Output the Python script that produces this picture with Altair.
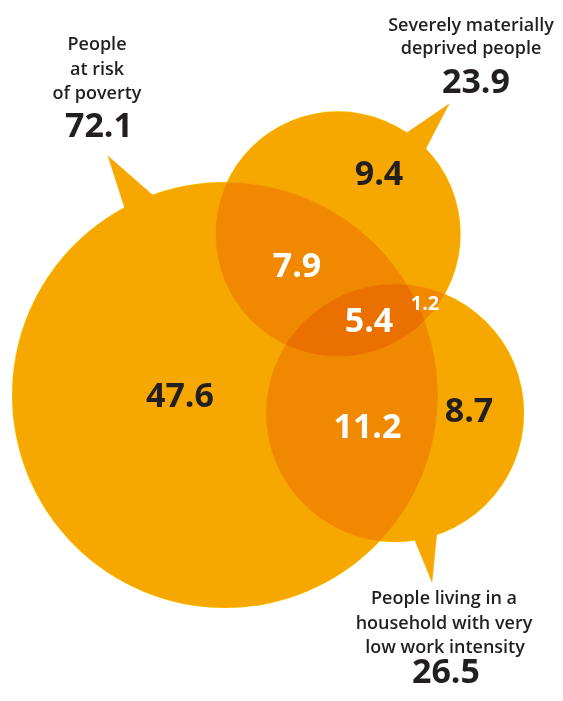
import altair as alt
import pandas as pd

# ---- data ----
circle_names = ["People at risk of poverty", "Severely materially deprived people",
                "People living in a household with very low work intensity"]
circle_totals = [72.1, 23.9, 26.5]
circle_cx = [225, 338, 395]
circle_cy = [395, 234, 413]

# callout tails (three vertices each, base points sit just inside the circle)
tail_group = ["poverty"] * 3 + ["deprived"] * 3 + ["work"] * 3
tail_order = [0, 1, 2] * 3
tail_x = [126, 108, 156, 402, 449, 423, 414, 432, 437]
tail_y = [212, 156, 198, 136, 104, 154, 538, 582, 531]

# circle titles, one row per text line
label_lines = ["People", "at risk", "of poverty",
               "Severely materially", "deprived people",
               "People living in a", "household with very", "low work intensity"]
label_x = [97, 97, 97, 471, 471, 444, 444, 445]
label_y = [50, 74.5, 99, 31, 54, 604, 628.5, 652.5]

# circle totals shown under the titles
total_x = [99, 476, 446]
total_y = [137, 93, 683]

# region values (millions)
region_values = [47.6, 9.4, 8.7, 7.9, 11.2, 1.2, 5.4]
region_kind = ["single", "single", "single", "double", "double", "double", "triple"]
region_x = [180, 379, 469, 297, 367.5, 425, 369]
region_y = [407, 185, 422, 277, 438, 310, 332]

# ---- tables ----
circles = pd.DataFrame({"name": circle_names, "total": circle_totals,
                        "cx": circle_cx, "cy": circle_cy})
tails = pd.DataFrame({"g": tail_group, "o": tail_order, "x": tail_x, "y": tail_y})
labels = pd.DataFrame({"t": label_lines, "x": label_x, "y": label_y})
totals = pd.DataFrame({"v": circle_totals, "x": total_x, "y": total_y})
regions = pd.DataFrame({"v": region_values, "kind": region_kind,
                        "x": region_x, "y": region_y})

W, H = 547, 685
xs = alt.Scale(domain=[8, 8 + W])
ys = alt.Scale(domain=[8, 8 + H], reverse=True)
X = lambda f: alt.X(f, scale=xs, axis=None)
Y = lambda f: alt.Y(f, scale=ys, axis=None)
size_scale = alt.Scale(type="linear", domain=[0, 72.1], range=[0, 426 ** 2])

SINGLE = "#F6A800"
BASE = "#FCCC00"
MULT = "#F9D100"
DARK = "#231F20"
FONT = "Open Sans"

base = alt.Chart(circles).mark_circle(opacity=1, color=BASE).encode(
    x=X("cx:Q"), y=Y("cy:Q"),
    size=alt.Size("total:Q", scale=size_scale, legend=None))

overlay = alt.Chart(circles).mark_circle(
    opacity=1, color=MULT, blend="multiply", stroke="white",
    strokeWidth=0.7, strokeOpacity=0.8).encode(
    x=X("cx:Q"), y=Y("cy:Q"),
    size=alt.Size("total:Q", scale=size_scale, legend=None))

tail = alt.Chart(tails).mark_line(fill=SINGLE, stroke=SINGLE, strokeWidth=0.5,
                                  color=SINGLE).encode(
    x=X("x:Q"), y=Y("y:Q"), detail="g:N", order="o:Q")

titles = alt.Chart(labels).mark_text(
    font=FONT, fontSize=18, fontWeight=600, color=DARK,
    align="center", baseline="alphabetic").encode(
    x=X("x:Q"), y=Y("y:Q"), text="t:N")

tot = alt.Chart(totals).mark_text(
    font=FONT, fontSize=34, fontWeight="bold", color=DARK,
    align="center", baseline="alphabetic").encode(
    x=X("x:Q"), y=Y("y:Q"), text=alt.Text("v:Q", format=".1f"))

reg = alt.Chart(regions).mark_text(
    font=FONT, fontWeight="bold", align="center", baseline="alphabetic").encode(
    x=X("x:Q"), y=Y("y:Q"), text=alt.Text("v:Q", format=".1f"),
    color=alt.condition("datum.kind == 'single'", alt.value(DARK), alt.value("white")),
    size=alt.condition("datum.v < 2", alt.value(20), alt.value(34)))

chart = alt.layer(base, overlay, tail, titles, tot, reg).properties(
    width=W, height=H, padding=0, autosize="none"
).configure_view(stroke=None)

chart.save("out.html", embed_options={"renderer": "svg", "actions": False})
